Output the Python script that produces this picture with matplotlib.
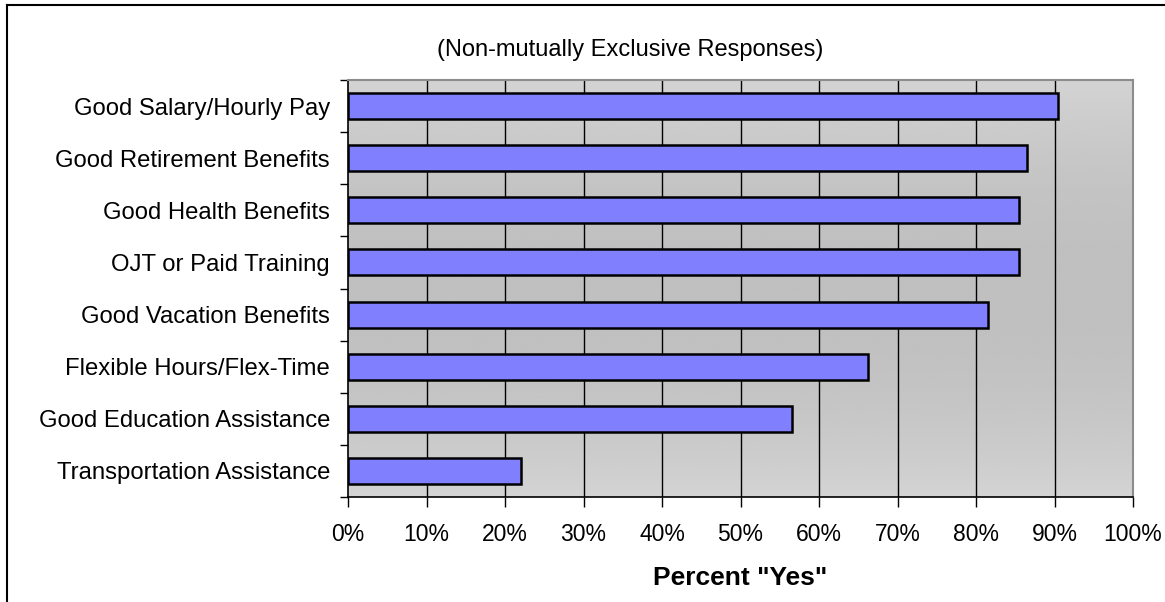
import numpy as np
import matplotlib
matplotlib.use("Agg")
import matplotlib.pyplot as plt
from matplotlib.lines import Line2D

# data (top to bottom)
categories = [
    "Good Salary/Hourly Pay",
    "Good Retirement Benefits",
    "Good Health Benefits",
    "OJT or Paid Training",
    "Good Vacation Benefits",
    "Flexible Hours/Flex-Time",
    "Good Education Assistance",
    "Transportation Assistance",
]
pct_yes = [90.4, 86.5, 85.5, 85.5, 81.5, 66.3, 56.5, 22.0]
x_ticks = list(range(0, 101, 10))
x_labels = [f"{t}%" for t in x_ticks]

plt.rcParams['font.family'] = ['Liberation Sans', 'DejaVu Sans']

fig = plt.figure(figsize=(11.65, 6.02), dpi=100)
ax = fig.add_axes([348 / 1165, 1 - 497 / 602, 785 / 1165, 417 / 602])

n = len(categories)
ypos = np.arange(n)[::-1]

# grey background, lighter at top and bottom, darker in the middle
g = np.linspace(-1, 1, 256)
shade = 0.83 - 0.08 * (1 - g ** 2)
grad = np.repeat(shade[:, None], 2, axis=1)
ax.imshow(grad, cmap='gray', vmin=0, vmax=1, aspect='auto',
          extent=[0, 100, -0.5, n - 0.5], zorder=0, interpolation='bicubic')

ax.set_xlim(0, 100)
ax.set_ylim(-0.5, n - 0.5)

for t in x_ticks[1:-1]:
    ax.axvline(t, color='black', lw=1.0, zorder=1)

ax.barh(ypos, pct_yes, height=0.5, color='#8080ff', edgecolor='black',
        linewidth=1.8, zorder=2)

ax.set_xticks(x_ticks)
ax.set_xticklabels(x_labels, fontsize=16.5)
ax.tick_params(axis='x', length=7, width=1, pad=12, color='black')

ax.set_yticks(ypos)
ax.set_yticklabels(categories, fontsize=17.2)
ax.tick_params(axis='y', which='major', length=0, pad=13)
ax.set_yticks(np.arange(n + 1) - 0.5, minor=True)
ax.tick_params(axis='y', which='minor', length=6, width=1, color='black')

for side in ['top', 'right']:
    ax.spines[side].set_color('#8c8c8c')
    ax.spines[side].set_linewidth(1.5)
for side in ['left', 'bottom']:
    ax.spines[side].set_color('black')
    ax.spines[side].set_linewidth(1.2)

ax.set_xlabel('Percent "Yes"', fontsize=19, fontweight='bold', labelpad=14)

fig.text(630 / 1165, 1 - 50 / 602, "(Non-mutually Exclusive Responses)",
         ha='center', va='center', fontsize=17)

# chart frame (only top and left edges are inside the picture)
fig.add_artist(Line2D([7 / 1165, 1.0], [1 - 5 / 602, 1 - 5 / 602],
                      transform=fig.transFigure, color='black', lw=1.5))
fig.add_artist(Line2D([7 / 1165, 7 / 1165], [0.0, 1 - 5 / 602],
                      transform=fig.transFigure, color='black', lw=1.5))

fig.savefig("out.png", dpi=100)
